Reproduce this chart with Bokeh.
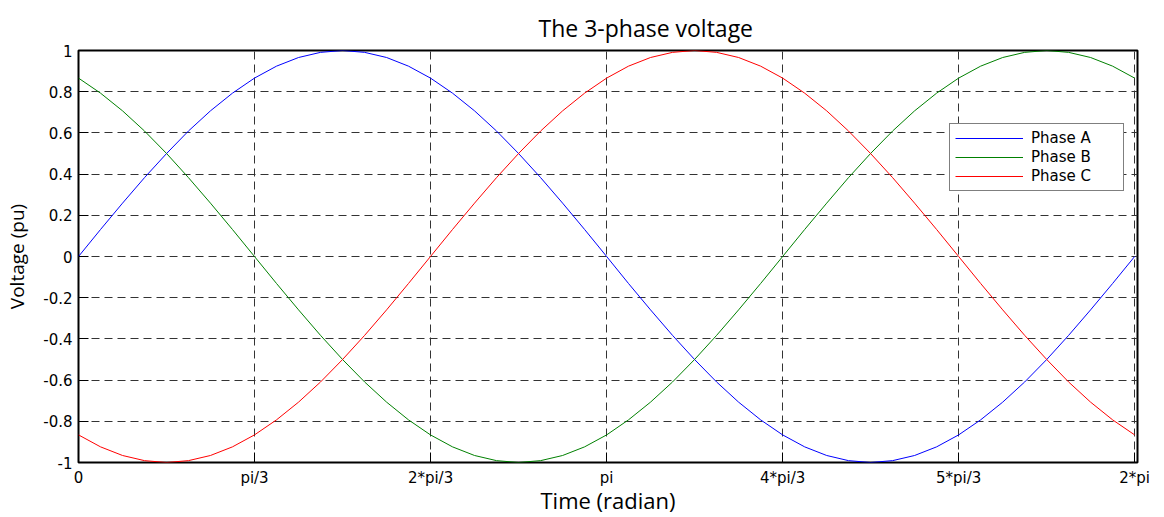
from bokeh.plotting import figure
from bokeh.models import (ColumnDataSource, FixedTicker, Range1d, Title, Legend, LegendItem)
from bokeh.embed import file_html
from bokeh.resources import INLINE

# ---- data ----
t = [0.000, 0.131, 0.262, 0.393, 0.524, 0.654, 0.785, 0.916, 1.047, 1.178,
     1.309, 1.440, 1.571, 1.702, 1.833, 1.963, 2.094, 2.225, 2.356, 2.487,
     2.618, 2.749, 2.880, 3.011, 3.142, 3.272, 3.403, 3.534, 3.665, 3.796,
     3.927, 4.058, 4.189, 4.320, 4.451, 4.581, 4.712, 4.843, 4.974, 5.105,
     5.236, 5.367, 5.498, 5.629, 5.760, 5.890, 6.021, 6.152, 6.283]

phase_a = [0.000, 0.131, 0.259, 0.383, 0.500, 0.609, 0.707, 0.793, 0.866, 0.924,
           0.966, 0.991, 1.000, 0.991, 0.966, 0.924, 0.866, 0.793, 0.707, 0.609,
           0.500, 0.383, 0.259, 0.131, 0.000, -0.131, -0.259, -0.383, -0.500, -0.609,
           -0.707, -0.793, -0.866, -0.924, -0.966, -0.991, -1.000, -0.991, -0.966, -0.924,
           -0.866, -0.793, -0.707, -0.609, -0.500, -0.383, -0.259, -0.131, 0.000]

phase_b = [0.866, 0.793, 0.707, 0.609, 0.500, 0.383, 0.259, 0.131, 0.000, -0.131,
           -0.259, -0.383, -0.500, -0.609, -0.707, -0.793, -0.866, -0.924, -0.966, -0.991,
           -1.000, -0.991, -0.966, -0.924, -0.866, -0.793, -0.707, -0.609, -0.500, -0.383,
           -0.259, -0.131, 0.000, 0.131, 0.259, 0.383, 0.500, 0.609, 0.707, 0.793,
           0.866, 0.924, 0.966, 0.991, 1.000, 0.991, 0.966, 0.924, 0.866]

phase_c = [-0.866, -0.924, -0.966, -0.991, -1.000, -0.991, -0.966, -0.924, -0.866, -0.793,
           -0.707, -0.609, -0.500, -0.383, -0.259, -0.131, 0.000, 0.131, 0.259, 0.383,
           0.500, 0.609, 0.707, 0.793, 0.866, 0.924, 0.966, 0.991, 1.000, 0.991,
           0.966, 0.924, 0.866, 0.793, 0.707, 0.609, 0.500, 0.383, 0.259, 0.131,
           0.000, -0.131, -0.259, -0.383, -0.500, -0.609, -0.707, -0.793, -0.866]

series_names = ["Phase A", "Phase B", "Phase C"]
series_colors = ["#0000FF", "#008000", "#FF0000"]

x_ticks = [0.0, 1.0472, 2.0944, 3.1416, 4.1888, 5.2360, 6.2832]
x_tick_labels = ["0", "pi/3", "2*pi/3", "pi", "4*pi/3", "5*pi/3", "2*pi"]
y_ticks = [-1.0, -0.8, -0.6, -0.4, -0.2, 0.0, 0.2, 0.4, 0.6, 0.8, 1.0]
y_tick_labels = ["-1", "-0.8", "-0.6", "-0.4", "-0.2", "0", "0.2", "0.4", "0.6", "0.8", "1"]

# ---- figure ----
TICK_FONT = "DejaVu Sans"
LABEL_FONT = "Open Sans"

p = figure(width=1164, height=517, output_backend="svg", toolbar_location=None,
           x_range=Range1d(0, 6.30), y_range=Range1d(-1, 1),
           min_border_left=78, min_border_right=27, min_border_top=50,
           min_border_bottom=55)
p.background_fill_color = "white"
p.border_fill_color = "white"
p.outline_line_color = "black"
p.outline_line_width = 2

p.title = Title(text="The 3-phase voltage", align="left", offset=460,
                text_font=LABEL_FONT, text_font_size="23px",
                text_font_style="normal", text_color="black", standoff=14)

src = ColumnDataSource(dict(xs=[t, t, t], ys=[phase_a, phase_b, phase_c],
                            color=series_colors, name=series_names))
ml = p.multi_line("xs", "ys", source=src, line_color="color", line_width=1)

xt = FixedTicker(ticks=x_ticks)
yt = FixedTicker(ticks=y_ticks)

xa = p.xaxis[0]
xa.ticker = xt
xa.major_label_overrides = {v: s for v, s in zip(x_ticks, x_tick_labels)}
ya = p.yaxis[0]
ya.ticker = yt
ya.major_label_overrides = {v: s for v, s in zip(y_ticks, y_tick_labels)}

for ax in (xa, ya):
    ax.axis_line_color = None
    ax.major_tick_in = 10
    ax.major_tick_out = 0
    ax.minor_tick_line_color = None
    ax.major_tick_line_color = "black"
    ax.major_label_text_font = TICK_FONT
    ax.major_label_text_font_size = "15px"
    ax.major_label_text_color = "black"
    ax.axis_label_text_font = LABEL_FONT
    ax.axis_label_text_font_style = "normal"
    ax.axis_label_text_color = "black"

xa.major_label_standoff = 6
xa.axis_label = "Time (radian)"
xa.axis_label_text_font_size = "22px"
xa.axis_label_standoff = -5
ya.major_label_standoff = 6
ya.axis_label = "Voltage (pu)"
ya.axis_label_text_font_size = "19px"
ya.axis_label_standoff = 10

for g, tk in ((p.xgrid[0], xt), (p.ygrid[0], yt)):
    g.ticker = tk
    g.grid_line_color = "#333333"
    g.grid_line_dash = "8 5"
    g.grid_line_width = 1

legend = Legend(items=[LegendItem(label=n, renderers=[ml], index=i)
                       for i, n in enumerate(series_names)],
                location=(871, 271))
legend.border_line_color = "black"
legend.border_line_width = 1
legend.background_fill_color = "white"
legend.background_fill_alpha = 1
legend.label_text_font = TICK_FONT
legend.label_text_font_size = "15px"
legend.label_text_color = "black"
legend.padding = 5
legend.spacing = 1
legend.margin = 0
legend.glyph_width = 68
legend.glyph_height = 18
legend.label_height = 18
legend.label_standoff = 8
legend.label_width = 87
p.add_layout(legend, "center")

open("out.html", "w").write(file_html(p, INLINE))
